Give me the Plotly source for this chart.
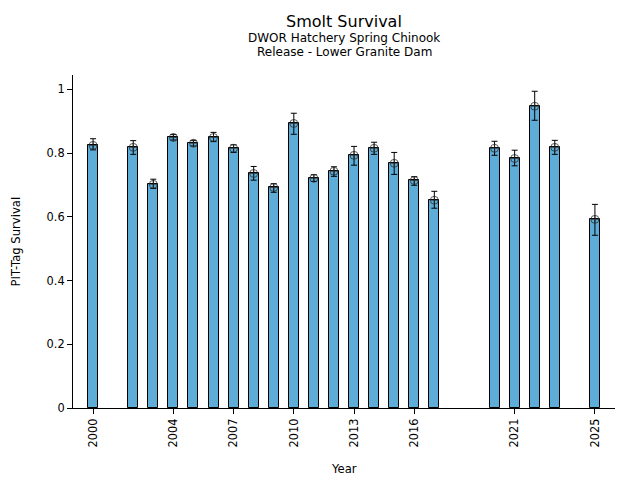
import plotly.graph_objects as go

years = [2000, 2002, 2003, 2004, 2005, 2006, 2007, 2008, 2009, 2010, 2011,
         2012, 2013, 2014, 2015, 2016, 2017, 2020, 2021, 2022, 2023, 2025]
survival = [0.824, 0.818, 0.702, 0.849, 0.831, 0.849, 0.815, 0.736, 0.692, 0.893, 0.721,
            0.743, 0.793, 0.815, 0.768, 0.714, 0.652, 0.815, 0.783, 0.947, 0.818, 0.592]
upper_ci = [0.845, 0.839, 0.718, 0.858, 0.839, 0.865, 0.826, 0.758, 0.704, 0.925, 0.732,
            0.757, 0.821, 0.834, 0.802, 0.726, 0.680, 0.837, 0.809, 0.994, 0.840, 0.639]
lower_ci = [0.810, 0.796, 0.689, 0.841, 0.822, 0.836, 0.802, 0.715, 0.677, 0.859, 0.711,
            0.727, 0.762, 0.796, 0.733, 0.699, 0.627, 0.793, 0.760, 0.903, 0.796, 0.542]
x_ticks = [2000, 2004, 2007, 2010, 2013, 2016, 2021, 2025]
y_ticks = [0, 0.2, 0.4, 0.6, 0.8, 1]
y_tick_labels = ["0", "0.2", "0.4", "0.6", "0.8", "1"]

err_plus = [u - s for u, s in zip(upper_ci, survival)]
err_minus = [s - l for s, l in zip(survival, lower_ci)]

FONT = "DejaVu Sans"
OFF = 8  # page body margin
W, H = 640 - OFF, 480 - OFF
L, T = 73 - OFF, 75 - OFF
R = W - (615 - OFF)
B = H - (408 - OFF)
PW, PH = W - L - R, H - T - B


def py(pix):
    return (408 - pix) / PH


def px(pix):
    return (pix - 73) / PW


fig = go.Figure()
fig.add_trace(go.Bar(
    x=years, y=survival, width=0.5,
    marker=dict(color="#5dadd8", line=dict(color="black", width=1)),
    showlegend=False, hoverinfo="skip",
))
fig.add_trace(go.Scatter(
    x=years, y=survival, mode="markers",
    marker=dict(symbol="circle-cross-open", size=8, color="rgba(40,40,40,0.75)",
                line=dict(width=1)),
    error_y=dict(type="data", symmetric=False, array=err_plus, arrayminus=err_minus,
                 color="black", thickness=1, width=3),
    showlegend=False,
))

ann = dict(xref="paper", yref="paper", showarrow=False, xanchor="center", yanchor="middle")
fig.update_layout(
    width=W, height=H,
    margin=dict(l=L, r=R, t=T, b=B, autoexpand=False),
    plot_bgcolor="white", paper_bgcolor="white",
    font=dict(family=FONT, size=11.4, color="black"),
    bargap=0,
    annotations=[
        dict(text="Smolt Survival", x=0.5, y=py(22), font=dict(size=16, family=FONT), **ann),
        dict(text="DWOR Hatchery Spring Chinook", x=0.5, y=py(38),
             font=dict(size=12, family=FONT), **ann),
        dict(text="Release - Lower Granite Dam", x=0.5, y=py(52),
             font=dict(size=12, family=FONT), **ann),
        dict(text="Year", x=0.5, y=py(469), font=dict(size=11.6, family=FONT), **ann),
        dict(text="PIT-Tag Survival", x=px(15), y=0.5, textangle=-90,
             font=dict(size=11.6, family=FONT), **ann),
    ],
    xaxis=dict(
        range=[1999, 2026], tickmode="array", tickvals=x_ticks,
        ticktext=[str(t) for t in x_ticks], tickangle=-90, automargin=False,
        showline=True, linecolor="black", linewidth=1, ticks="outside", ticklen=5,
        tickcolor="black", showgrid=False, zeroline=False,
        tickfont=dict(size=11.4),
    ),
    yaxis=dict(
        range=[0, 1.045], tickmode="array", tickvals=y_ticks, ticktext=y_tick_labels,
        automargin=False,
        showline=True, linecolor="black", linewidth=1, ticks="outside", ticklen=5,
        tickcolor="black", showgrid=False, zeroline=False,
        tickfont=dict(size=11.4),
    ),
)

fig.write_html("out.html")
